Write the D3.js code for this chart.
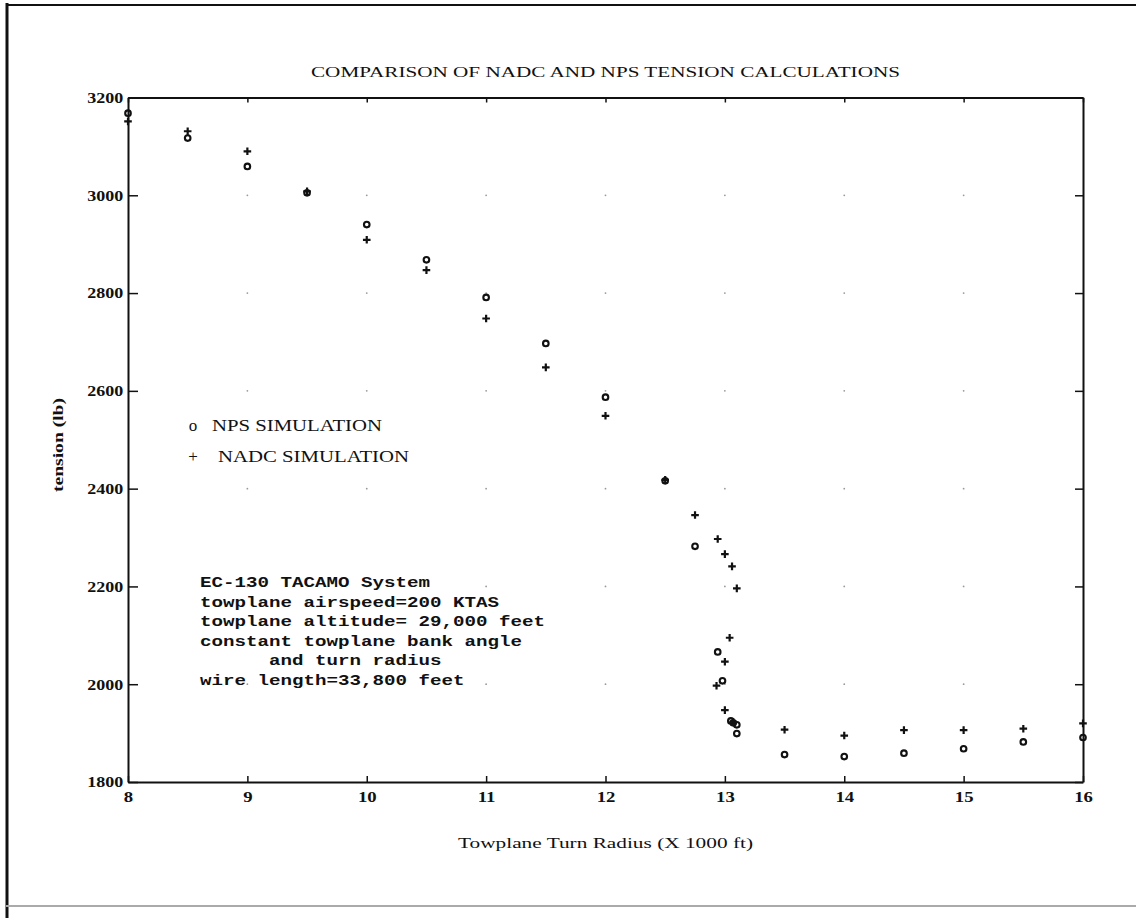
<!DOCTYPE html>
<html>
<head>
<meta charset="utf-8">
<script src="https://cdn.jsdelivr.net/npm/d3@7"></script>
<style>
  html, body { margin: 0; padding: 0; background: #fff; }
  svg { display: block; }
</style>
</head>
<body>
<svg id="chart" width="1136" height="918"></svg>
<script>
// NPS simulation results (turn radius in thousands of ft, tension in lb)
const npsRadius  = [8, 8.5, 9, 9.5, 10, 10.5, 11, 11.5, 12, 12.5, 12.75, 12.94, 12.98, 13.05, 13.07, 13.1, 13.1, 13.5, 14, 14.5, 15, 15.5, 16];
const npsTension = [3168, 3117, 3059, 3005, 2940, 2868, 2791, 2697, 2587, 2416, 2282, 2066, 2007, 1925, 1921, 1917, 1899, 1856, 1852, 1859, 1868, 1882, 1891];

// NADC simulation results
const nadcRadius  = [8, 8.5, 9, 9.5, 10, 10.5, 11, 11.5, 12, 12.5, 12.75, 12.94, 13.0, 13.06, 13.1, 13.04, 13.0, 12.93, 13.0, 13.07, 13.5, 14, 14.5, 15, 15.5, 16];
const nadcTension = [3151, 3131, 3090, 3008, 2909, 2847, 2748, 2648, 2549, 2418, 2346, 2297, 2266, 2241, 2196, 2095, 2046, 1997, 1947, 1923, 1907, 1895, 1906, 1906, 1909, 1920];

const xTicks = [8, 9, 10, 11, 12, 13, 14, 15, 16];
const yTicks = [1800, 2000, 2200, 2400, 2600, 2800, 3000, 3200];

const titleText = "COMPARISON OF NADC AND NPS TENSION CALCULATIONS";
const xLabel = "Towplane Turn Radius (X 1000 ft)";
const yLabel = "tension (lb)";
const legendLabels = ["NPS SIMULATION", "NADC SIMULATION"];
const noteLines = [
  "EC-130 TACAMO System",
  "towplane airspeed=200 KTAS",
  "towplane altitude= 29,000 feet",
  "constant towplane bank angle",
  "      and turn radius",
  "wire length=33,800 feet"
];

const svg = d3.select("#chart");
const serif = "'Liberation Serif', 'Times New Roman', serif";
const mono = "'Liberation Mono', 'Courier New', monospace";

const x = d3.scaleLinear().domain([8, 16]).range([128, 1083]);
const y = d3.scaleLinear().domain([1800, 3200]).range([782, 97.5]);

// page frame
svg.append("line").attr("x1", 7).attr("x2", 7).attr("y1", 3).attr("y2", 918)
  .attr("stroke", "#111").attr("stroke-width", 3);
svg.append("line").attr("x1", 6).attr("x2", 1136).attr("y1", 5).attr("y2", 5)
  .attr("stroke", "#111").attr("stroke-width", 2);
svg.append("line").attr("x1", 6).attr("x2", 1136).attr("y1", 906).attr("y2", 906)
  .attr("stroke", "#aaa").attr("stroke-width", 2);

// dotted grid: a faint dot at each tick intersection
const grid = svg.append("g");
xTicks.slice(1, -1).forEach(tx => {
  yTicks.slice(1, -1).forEach(ty => {
    grid.append("circle").attr("cx", x(tx)).attr("cy", y(ty)).attr("r", 0.9)
      .attr("fill", "#999");
  });
});

function styleAxis(g) {
  g.select(".domain").attr("stroke", "#111").attr("stroke-width", 2);
  g.selectAll(".tick line").attr("stroke", "#111").attr("stroke-width", 1.5);
  g.selectAll(".tick text")
    .attr("fill", "#111")
    .style("font-family", serif)
    .style("font-size", "15px")
    .style("font-weight", "bold");
}

const fmt = d3.format("d");

// bottom axis with labels
const gx = svg.append("g").attr("transform", `translate(0,${y(1800)})`)
  .call(d3.axisBottom(x).tickValues(xTicks).tickFormat(fmt)
    .tickSizeInner(-6).tickSizeOuter(0).tickPadding(9));
styleAxis(gx);
gx.selectAll(".tick text").attr("transform", "scale(1.25,1)");

// left axis with labels
const gy = svg.append("g").attr("transform", `translate(${x(8)},0)`)
  .call(d3.axisLeft(y).tickValues(yTicks).tickFormat(fmt)
    .tickSizeInner(-10).tickSizeOuter(0).tickPadding(4));
styleAxis(gy);
gy.selectAll(".tick text").attr("transform", "scale(1.2,1)");

// top and right axes: inward ticks only
const gt = svg.append("g").attr("transform", `translate(0,${y(3200)})`)
  .call(d3.axisTop(x).tickValues(xTicks).tickFormat("")
    .tickSizeInner(-5).tickSizeOuter(0));
styleAxis(gt);
const gr = svg.append("g").attr("transform", `translate(${x(16)},0)`)
  .call(d3.axisRight(y).tickValues(yTicks).tickFormat("")
    .tickSizeInner(-8).tickSizeOuter(0));
styleAxis(gr);

// NPS points: open circles
const nps = npsRadius.map((r, i) => ({ r, t: npsTension[i] }));
svg.append("g").selectAll("circle").data(nps).join("circle")
  .attr("cx", d => x(d.r)).attr("cy", d => y(d.t)).attr("r", 2.8)
  .attr("fill", "none").attr("stroke", "#111").attr("stroke-width", 2.1);

// NADC points: plus signs
const nadc = nadcRadius.map((r, i) => ({ r, t: nadcTension[i] }));
svg.append("g").selectAll("path").data(nadc).join("path")
  .attr("d", d => {
    const cx = x(d.r), cy = y(d.t), s = 3.8;
    return `M${cx - s},${cy}H${cx + s}M${cx},${cy - s}V${cy + s}`;
  })
  .attr("stroke", "#111").attr("stroke-width", 2.2).attr("fill", "none");

// title
svg.append("text").attr("x", 311).attr("y", 77)
  .attr("textLength", 589).attr("lengthAdjust", "spacingAndGlyphs")
  .style("font-family", serif).style("font-size", "15px").attr("fill", "#111")
  .text(titleText);

// axis titles
svg.append("text").attr("x", 458).attr("y", 848)
  .attr("textLength", 295).attr("lengthAdjust", "spacingAndGlyphs")
  .style("font-family", serif).style("font-size", "15px").attr("fill", "#111")
  .text(xLabel);

svg.append("text")
  .attr("transform", "translate(63,492) rotate(-90)")
  .attr("textLength", 94).attr("lengthAdjust", "spacingAndGlyphs")
  .style("font-family", serif).style("font-size", "14px").style("font-weight", "bold")
  .attr("fill", "#111")
  .text(yLabel);

// legend
const legendSymbols = ["o", "+"];
const legendY = [431, 462];
const legendTextX = [212, 218];
const legendTextW = [170, 191];
legendLabels.forEach((lab, i) => {
  svg.append("text").attr("x", 193).attr("y", legendY[i]).attr("text-anchor", "middle")
    .style("font-family", serif).style("font-size", "17px").attr("fill", "#111")
    .text(legendSymbols[i]);
  svg.append("text").attr("x", legendTextX[i]).attr("y", legendY[i])
    .attr("textLength", legendTextW[i]).attr("lengthAdjust", "spacingAndGlyphs")
    .style("font-family", serif).style("font-size", "17px").attr("fill", "#111")
    .text(lab);
});

// annotation block
const note = svg.append("g");
noteLines.forEach((line, i) => {
  const lead = line.length - line.trimStart().length;
  const txt = line.trim();
  note.append("text")
    .attr("x", 200 + lead * 11.5).attr("y", 587 + i * 19.5)
    .attr("textLength", txt.length * 11.5).attr("lengthAdjust", "spacingAndGlyphs")
    .style("font-family", mono).style("font-size", "15px").style("font-weight", "bold")
    .attr("fill", "#111")
    .text(txt);
});
</script>
</body>
</html>
